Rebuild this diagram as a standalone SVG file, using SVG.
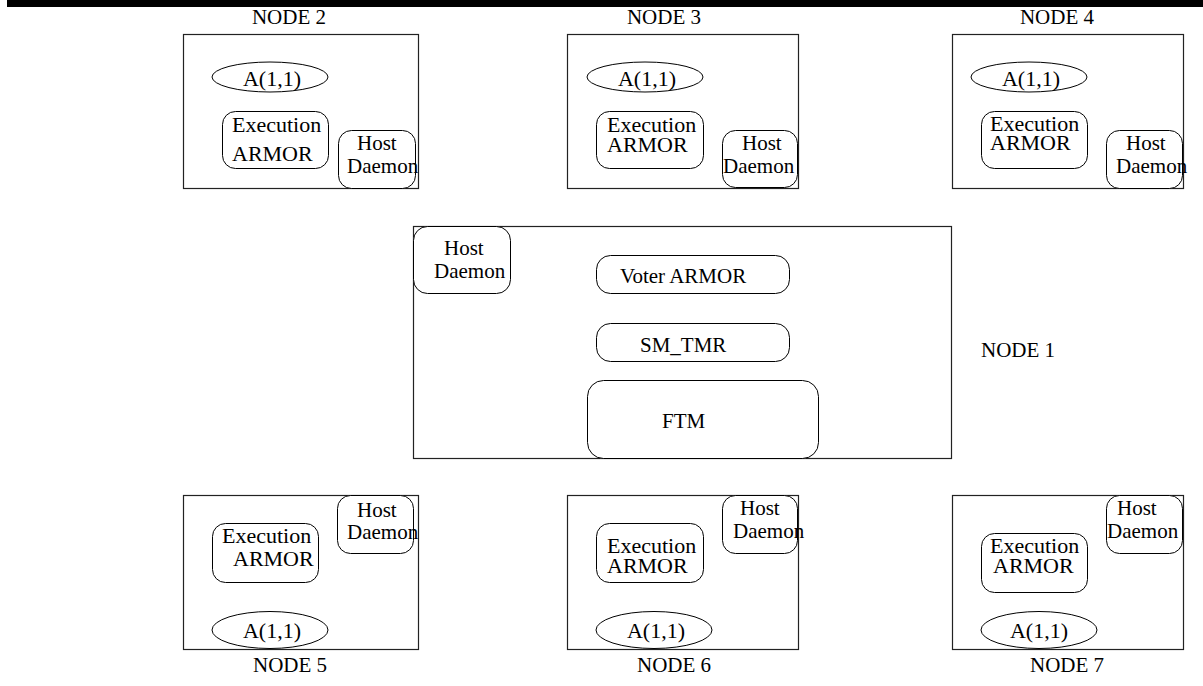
<svg xmlns="http://www.w3.org/2000/svg" width="1203" height="686" viewBox="0 0 1203 686">
  <style>
    .frame { fill: #ffffff; stroke: #222222; stroke-width: 1.2; }
    .part { fill: #ffffff; stroke: #000000; stroke-width: 1; }
    .t { font-family: "Liberation Serif", "Times New Roman", serif; font-size: 21px; fill: #000000; }
    .b { font-size: 22px; }
    .c { text-anchor: middle; }
  </style>
  <rect x="0" y="0" width="1203" height="686" fill="#ffffff"/>
  <!-- heading rule -->
  <rect x="7" y="0" width="1196" height="7" fill="#000000"/>

  <g id="connectors"></g>

  <!-- top row -->
  <g id="node2">
    <rect class="frame" x="183.5" y="34.5" width="235" height="154"/>
    <text class="t c" x="289" y="24">NODE 2</text>
    <ellipse class="part" cx="270" cy="77" rx="58" ry="15"/>
    <text class="t b c" x="272" y="86">A(1,1)</text>
    <rect class="part" x="222.5" y="111.5" width="106" height="57" rx="13"/>
    <text class="t b" x="232" y="132">Execution</text>
    <text class="t b" x="232" y="161">ARMOR</text>
    <rect class="part" x="338.5" y="130.5" width="77" height="58" rx="13"/>
    <text class="t" x="357" y="150">Host</text>
    <text class="t" x="347" y="173">Daemon</text>
  </g>

  <g id="node3">
    <rect class="frame" x="567.5" y="34.5" width="231" height="154"/>
    <text class="t c" x="664" y="24">NODE 3</text>
    <ellipse class="part" cx="645" cy="77" rx="58" ry="15"/>
    <text class="t b c" x="647" y="86">A(1,1)</text>
    <rect class="part" x="596.5" y="111.5" width="107" height="57" rx="13"/>
    <text class="t b" x="607" y="132">Execution</text>
    <text class="t b" x="607" y="152">ARMOR</text>
    <rect class="part" x="722.5" y="130.5" width="75" height="57" rx="13"/>
    <text class="t" x="742" y="150">Host</text>
    <text class="t" x="723" y="173">Daemon</text>
  </g>

  <g id="node4">
    <rect class="frame" x="952.5" y="34.5" width="231" height="154"/>
    <text class="t c" x="1057" y="24">NODE 4</text>
    <ellipse class="part" cx="1029" cy="77" rx="58" ry="15"/>
    <text class="t b c" x="1031" y="86">A(1,1)</text>
    <rect class="part" x="981.5" y="111.5" width="106" height="57" rx="13"/>
    <text class="t b" x="990" y="131">Execution</text>
    <text class="t b" x="990" y="150">ARMOR</text>
    <rect class="part" x="1106.5" y="130.5" width="76" height="58" rx="13"/>
    <text class="t" x="1126" y="150">Host</text>
    <text class="t" x="1116" y="173">Daemon</text>
  </g>

  <!-- central node -->
  <g id="node1">
    <rect class="frame" x="413.5" y="226.5" width="538" height="232"/>
    <text class="t" x="981" y="357">NODE 1</text>
    <rect class="part" x="413.5" y="226.5" width="97" height="67" rx="14"/>
    <text class="t" x="444" y="255">Host</text>
    <text class="t" x="434" y="278">Daemon</text>
    <rect class="part" x="596.5" y="255.5" width="193" height="38" rx="14"/>
    <text class="t" x="620" y="283">Voter ARMOR</text>
    <rect class="part" x="596.5" y="323.5" width="193" height="38" rx="14"/>
    <text class="t" x="640" y="352">SM_TMR</text>
    <rect class="part" x="587.5" y="380.5" width="231" height="78" rx="16"/>
    <text class="t" x="662" y="428">FTM</text>
  </g>

  <!-- bottom row -->
  <g id="node5">
    <rect class="frame" x="183.5" y="495.5" width="235" height="154"/>
    <text class="t" x="253" y="672">NODE 5</text>
    <rect class="part" x="212.5" y="523.5" width="106" height="59" rx="13"/>
    <text class="t b" x="222" y="543">Execution</text>
    <text class="t b" x="233" y="566">ARMOR</text>
    <rect class="part" x="337.5" y="495.5" width="76" height="58" rx="13"/>
    <text class="t" x="357" y="517">Host</text>
    <text class="t" x="347" y="539">Daemon</text>
    <ellipse class="part" cx="270" cy="630" rx="58" ry="18.5"/>
    <text class="t b c" x="272" y="638">A(1,1)</text>
  </g>

  <g id="node6">
    <rect class="frame" x="567.5" y="495.5" width="231" height="154"/>
    <text class="t" x="637" y="672">NODE 6</text>
    <rect class="part" x="596.5" y="523.5" width="107" height="59" rx="13"/>
    <text class="t b" x="607" y="553">Execution</text>
    <text class="t b" x="607" y="573">ARMOR</text>
    <rect class="part" x="722.5" y="495.5" width="75" height="58" rx="13"/>
    <text class="t" x="740" y="515">Host</text>
    <text class="t" x="733" y="538">Daemon</text>
    <ellipse class="part" cx="654" cy="630" rx="58" ry="18.5"/>
    <text class="t b c" x="656" y="638">A(1,1)</text>
  </g>

  <g id="node7">
    <rect class="frame" x="952.5" y="495.5" width="231" height="154"/>
    <text class="t" x="1030" y="672">NODE 7</text>
    <rect class="part" x="981.5" y="533.5" width="106" height="59" rx="13"/>
    <text class="t b" x="990" y="553">Execution</text>
    <text class="t b" x="993" y="573">ARMOR</text>
    <rect class="part" x="1106.5" y="495.5" width="76" height="58" rx="13"/>
    <text class="t" x="1117" y="515">Host</text>
    <text class="t" x="1107" y="538">Daemon</text>
    <ellipse class="part" cx="1039" cy="630" rx="58" ry="18.5"/>
    <text class="t b c" x="1039" y="638">A(1,1)</text>
  </g>
</svg>
